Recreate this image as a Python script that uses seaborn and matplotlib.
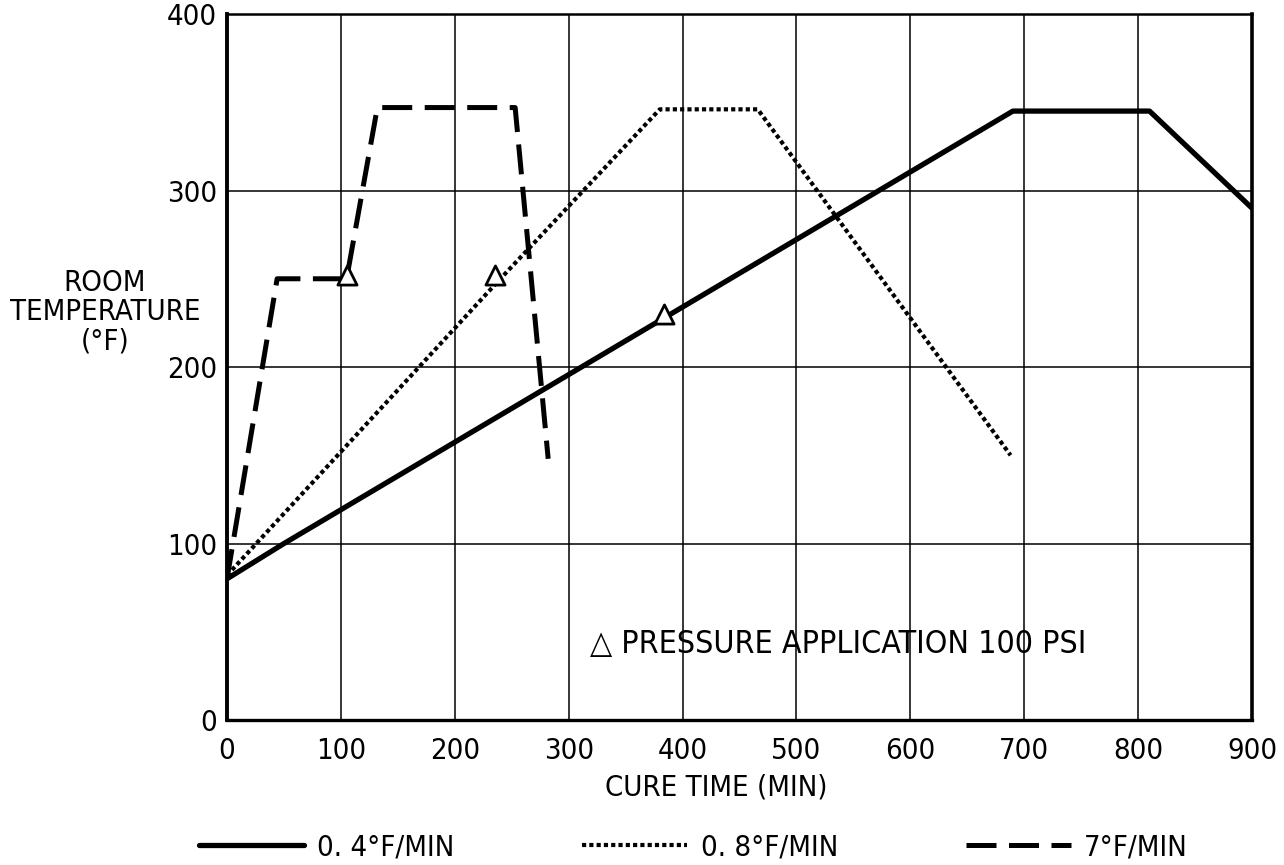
import pandas as pd
import matplotlib
matplotlib.use("Agg")
import matplotlib.pyplot as plt
import seaborn as sns
from matplotlib import font_manager
from matplotlib.lines import Line2D

sns.set_theme(style="white")

# the scan uses a narrow typeface; take a condensed one when it exists
narrow = [f for f in font_manager.fontManager.ttflist
          if f.stretch in ('condensed', 'semi-condensed', 'extra-condensed')
          or 'Narrow' in f.name or 'Condensed' in f.name]
if narrow:
    plt.rcParams['font.family'] = [narrow[0].name, 'DejaVu Sans']
    plt.rcParams['font.stretch'] = narrow[0].stretch
    fs = 21
else:
    plt.rcParams['font.family'] = ['Roboto', 'DejaVu Sans']
    fs = 19
plt.rcParams['text.color'] = 'black'
plt.rcParams['axes.labelcolor'] = 'black'

# cure profiles (time in min, temperature in F)
slow_time = [0, 50, 690, 810, 900]
slow_temp = [80, 100, 345, 345, 290]

mid_time = [0, 240, 380, 466, 688]
mid_temp = [82, 250, 346, 346, 150]

fast_time = [0, 44, 105, 132, 253, 282]
fast_temp = [80, 250, 250, 347, 347, 148]

# points where 100 psi pressure was applied
press_time = [105, 235, 384]
press_temp = [252, 252, 230]

rate_labels = ['0. 4°F/MIN', '0. 8°F/MIN', '7°F/MIN']
x_ticks = [0, 100, 200, 300, 400, 500, 600, 700, 800, 900]
y_ticks = [0, 100, 200, 300, 400]

df = pd.concat([
    pd.DataFrame({'time': slow_time, 'temp': slow_temp, 'rate': rate_labels[0]}),
    pd.DataFrame({'time': mid_time, 'temp': mid_temp, 'rate': rate_labels[1]}),
    pd.DataFrame({'time': fast_time, 'temp': fast_temp, 'rate': rate_labels[2]}),
], ignore_index=True)

line_dashes = {rate_labels[0]: '', rate_labels[1]: (1, 0.75), rate_labels[2]: (6, 2.5)}
line_widths = {rate_labels[0]: 3.8, rate_labels[1]: 3.0, rate_labels[2]: 3.6}

fig = plt.figure(figsize=(12.84, 8.65), dpi=100)
ax = fig.add_axes([0.1768, 0.1676, 0.7983, 0.8162])

sns.lineplot(data=df, x='time', y='temp', style='rate', size='rate',
             dashes=line_dashes, sizes=line_widths, color='black',
             estimator=None, sort=False, legend=False, ax=ax, zorder=3)
sns.scatterplot(x=press_time, y=press_temp, marker='^', s=190, color='white',
                edgecolor='black', linewidth=2.0, ax=ax, zorder=5)

ax.text(319, 43, '△ PRESSURE APPLICATION 100 PSI', fontsize=fs + 2, va='center')

ax.set_xlim(0, 900)
ax.set_ylim(0, 400)
ax.set_xticks(x_ticks)
ax.set_yticks(y_ticks)
ax.tick_params(length=0, labelsize=fs, colors='black')
ax.tick_params(axis='x', pad=12)
ax.tick_params(axis='y', pad=7)
ax.grid(True, color='black', linewidth=1.1)

for side, lw in [('left', 2.8), ('bottom', 2.4), ('top', 1.8), ('right', 2.6)]:
    ax.spines[side].set_color('black')
    ax.spines[side].set_linewidth(lw)

ax.set_xlabel('CURE TIME (MIN)', fontsize=fs, va='center')
ax.xaxis.set_label_coords(0.477, -0.095)
ax.set_ylabel('')
fig.text(105 / 1284, 1 - 312 / 865, 'ROOM\nTEMPERATURE\n(°F)', ha='center',
         va='center', fontsize=fs, linespacing=1.05)

handles = [Line2D([], [], color='black', lw=line_widths[r], dashes=line_dashes[r] or (None, None))
           for r in rate_labels]
fig.legend(handles, rate_labels, loc='center', bbox_to_anchor=(0.54, 1 - 847 / 865),
           ncol=3, frameon=False, fontsize=fs, handlelength=3.6, handletextpad=0.45,
           columnspacing=4.4)

fig.savefig('out.png', dpi=100)
